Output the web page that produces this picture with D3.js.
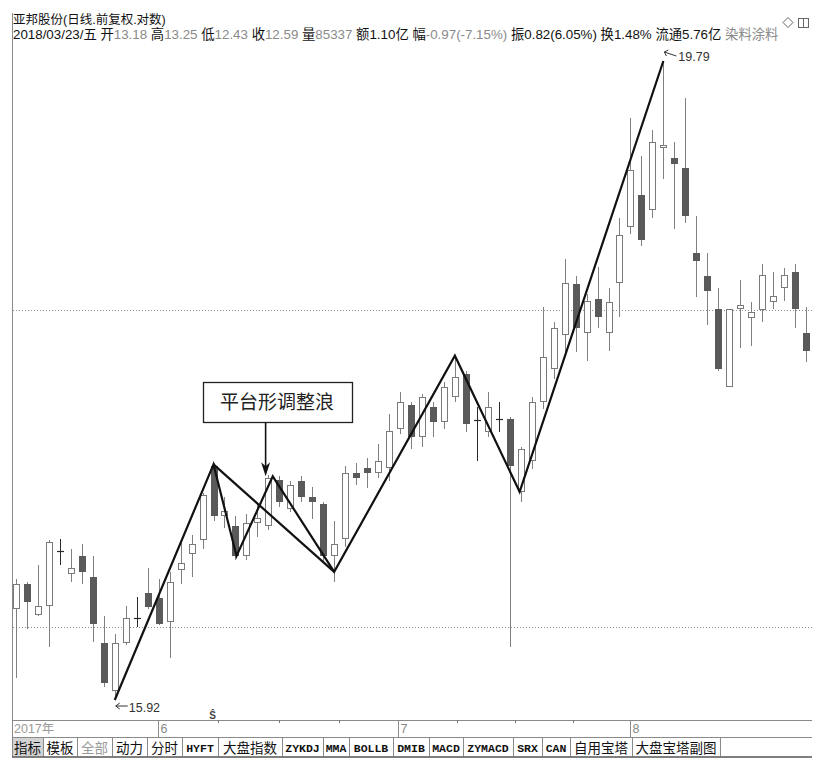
<!DOCTYPE html>
<html><head><meta charset="utf-8">
<script src="https://cdn.jsdelivr.net/npm/d3@7/dist/d3.min.js"></script>
<style>
body{margin:0;background:#fff}
text{white-space:pre}
</style>
</head><body>
<svg id="c" width="828" height="767"></svg>
<script>
// ---------------- DATA ----------------
// daily candles (index 0..72), log price scale
const openP = [16.42,16.56,16.39,16.44,16.75,16.62,16.72,16.60,16.23,15.97,
               16.23,16.37,16.51,16.48,16.35,16.64,16.73,16.81,17.24,16.95,
               16.89,16.72,16.91,16.89,17.16,16.99,17.15,17.06,17.02,16.72,
               16.82,17.20,17.23,17.20,17.23,17.46,17.60,17.41,17.59,17.50,
               17.65,17.79,17.51,17.44,17.52,17.52,17.09,17.27,17.62,17.82,
               18.03,18.34,18.04,18.25,18.04,18.35,18.70,18.91,18.81,19.21,
               19.15,19.08,18.54,18.39,18.19,17.71,18.19,18.13,18.18,18.23,
               18.32,18.42,18.04];
const highP = [16.59,16.57,16.67,16.81,16.82,16.76,16.79,16.72,16.38,16.28,
               16.44,16.49,16.65,16.59,16.63,16.80,16.84,17.08,17.26,17.06,
               16.95,16.96,17.02,17.19,17.18,17.15,17.18,17.12,17.03,16.92,
               17.24,17.26,17.29,17.37,17.55,17.68,17.62,17.67,17.62,17.74,
               17.90,17.81,17.59,17.68,17.62,17.53,17.35,17.65,18.20,18.11,
               18.50,18.39,18.28,18.45,18.32,18.76,19.41,19.16,19.33,19.79,
               19.25,19.54,18.77,18.54,18.32,18.19,18.37,18.23,18.47,18.42,
               18.44,18.47,18.20];
const lowP  = [16.04,16.31,16.38,16.21,16.67,16.57,16.56,16.24,15.99,15.92,
               16.22,16.32,16.42,16.33,16.15,16.56,16.60,16.76,16.92,16.88,
               16.70,16.70,16.83,16.87,17.00,16.97,17.03,16.93,16.69,16.57,
               16.77,17.13,17.11,17.17,17.15,17.43,17.34,17.35,17.41,17.46,
               17.62,17.44,17.27,17.41,17.44,16.21,17.03,17.22,17.58,17.76,
               17.90,17.92,17.87,18.07,17.93,18.14,18.66,18.58,18.76,19.01,
               18.69,18.73,18.26,18.09,17.81,17.71,17.95,17.96,18.11,18.19,
               18.24,18.07,17.86];
const closeP= [16.56,16.46,16.44,16.80,16.75,16.65,16.63,16.34,16.01,16.23,
               16.37,16.37,16.43,16.34,16.57,16.68,16.79,17.07,16.95,16.98,
               16.72,16.91,16.94,17.17,17.03,17.13,17.06,17.03,16.72,16.79,
               17.20,17.17,17.20,17.27,17.45,17.62,17.41,17.65,17.50,17.71,
               17.77,17.49,17.51,17.59,17.52,17.24,17.34,17.62,17.89,18.07,
               18.35,18.07,18.24,18.14,18.23,18.65,19.07,18.62,19.25,19.23,
               19.11,18.77,18.49,18.30,17.82,18.19,18.21,18.17,18.40,18.27,
               18.40,18.19,17.93];

// wave line (candle index, price)
const waveMain  = [[9,15.92],[18,17.25],[20.1,16.72],[23.4,17.18],[29,16.63],[40,17.90],[45.9,17.09],[59,19.79]];
const waveExtra = [[18,17.25],[29,16.63]];
const lowMark  = {i:9,  p:15.92, label:"15.92"};
const highMark = {i:59, p:19.79, label:"19.79"};
const gridValues = [16.32, 18.18];
const annot = {i:22.75, p:17.18, label:"平台形调整浪"};

// time axis
const months = [{i:12.95,label:"6"},{i:34.8,label:"7"},{i:55.95,label:"8"}];
const weekTicks = [18.4, 24.0, 29.45, 40.15, 45.5, 50.75];
const yearLabel = "2017年";

// header
const title = "亚邦股份(日线.前复权.对数)";
const infoParts = [
  ["2018/03/23/五 ","k"],["开","k"],["13.18 ","g"],["高","k"],["13.25 ","g"],
  ["低","k"],["12.43 ","g"],["收","k"],["12.59 ","g"],["量","k"],["85337 ","g"],
  ["额1.10亿 ","k"],["幅","k"],["-0.97(-7.15%) ","g"],["振0.82(6.05%) ","k"],
  ["换1.48% ","k"],["流通5.76亿 ","k"],["染料涂料","g"]];

// bottom tab bar
const tabs = ["指标","模板","全部","动力","分时","HYFT","大盘指数","ZYKDJ","MMA","BOLLB","DMIB","MACD","ZYMACD","SRX","CAN","自用宝塔","大盘宝塔副图"];
const tabWidths = [31,34,35,35,35,36,64,41,26,44,36,34,50,29,28,62,88];

// ---------------- DRAW ----------------
const svg = d3.select("#c");
const W = 828, H = 767;
svg.append("rect").attr("width",W).attr("height",H).attr("fill","#fff");

const L = 12, R = 812;
const x = d3.scaleLinear().domain([0, 72]).range([16, 806]);
const y = d3.scaleLog().domain([15.92, 19.79]).range([700, 61]);

const FONT = "'Liberation Sans', Arial, 'Noto Sans CJK SC', sans-serif";
const CJK = "'Noto Sans CJK SC', 'Liberation Sans', sans-serif";

// frame
svg.append("line").attr("x1",L+0.5).attr("x2",L+0.5).attr("y1",13).attr("y2",757)
  .attr("stroke","#8a8a8a");

// grid
svg.append("g").selectAll("line").data(gridValues).join("line")
  .attr("x1",L+1).attr("x2",R)
  .attr("y1",d=>Math.round(y(d))+0.5).attr("y2",d=>Math.round(y(d))+0.5)
  .attr("stroke","#8c8c8c").attr("stroke-dasharray","1,2");

// candles
const data = openP.map((o,i)=>({i,o,h:highP[i],l:lowP[i],c:closeP[i]}));
const gC = svg.append("g");
const cx = d => Math.round(x(d.i)) + 0.5;
gC.selectAll("line.w").data(data).join("line").attr("class","w")
  .attr("x1",cx).attr("x2",cx)
  .attr("y1",d=>Math.round(y(d.h))).attr("y2",d=>Math.round(y(d.l)))
  .attr("stroke",d=>d.o===d.c?"#2a2a2a":"#808080").attr("stroke-width",1);

const upC = data.filter(d=>d.c>d.o), dnC = data.filter(d=>d.c<d.o), dj = data.filter(d=>d.c===d.o);
gC.selectAll("rect.dn").data(dnC).join("rect").attr("class","dn")
  .attr("x",d=>cx(d)-3.5).attr("width",7)
  .attr("y",d=>Math.round(y(d.o)))
  .attr("height",d=>Math.max(1,Math.round(y(d.c))-Math.round(y(d.o))))
  .attr("fill","#5a5a5a");
gC.selectAll("rect.up").data(upC).join("rect").attr("class","up")
  .attr("x",d=>cx(d)-3).attr("width",6)
  .attr("y",d=>Math.round(y(d.c))+0.5)
  .attr("height",d=>Math.max(1,Math.round(y(d.o))-Math.round(y(d.c))-1))
  .attr("fill","#fff").attr("stroke","#7a7a7a").attr("stroke-width",1);
gC.selectAll("line.dj").data(dj).join("line").attr("class","dj")
  .attr("x1",d=>cx(d)-3.5).attr("x2",d=>cx(d)+3.5)
  .attr("y1",d=>Math.round(y(d.o))+0.5).attr("y2",d=>Math.round(y(d.o))+0.5)
  .attr("stroke","#2a2a2a").attr("stroke-width",1.2);

// wave lines
const line = d3.line().x(d=>x(d[0])).y(d=>y(d[1]));
[waveMain, waveExtra].forEach(w=>{
  svg.append("path").attr("d",line(w)).attr("fill","none")
    .attr("stroke","#111").attr("stroke-width",2.2).attr("stroke-linejoin","miter");
});

// extreme labels
{
  const x0 = x(lowMark.i), y0 = y(lowMark.p);
  const ay = y0 + 6;
  svg.append("path").attr("d",`M${x0+13},${ay}H${x0+1}M${x0+5},${ay-3}L${x0+1},${ay}L${x0+5},${ay+3}`)
    .attr("stroke","#333").attr("fill","none").attr("stroke-width",1);
  svg.append("text").attr("x",x0+14).attr("y",y0+12).text(lowMark.label)
    .attr("font-family",FONT).attr("font-size",12.5).attr("fill","#333");
}
{
  const x0 = x(highMark.i), y0 = y(highMark.p);
  svg.append("path").attr("d",`M${x0+13},${y0-5}L${x0+1},${y0-9}M${x0+1},${y0-9}L${x0+5},${y0-11}M${x0+1},${y0-9}L${x0+3},${y0-5}`)
    .attr("stroke","#333").attr("fill","none").attr("stroke-width",1);
  svg.append("text").attr("x",x0+15).attr("y",y0).text(highMark.label)
    .attr("font-family",FONT).attr("font-size",12.5).attr("fill","#333");
}

// annotation box + arrow
{
  const tx = x(annot.i), ty = y(annot.p);
  const boxW = 149, boxH = 40, boxX = tx - 63, boxY = ty - 94;
  svg.append("rect").attr("x",Math.round(boxX)+0.5).attr("y",Math.round(boxY)+0.5)
    .attr("width",boxW).attr("height",boxH).attr("fill","#fff")
    .attr("stroke","#222").attr("stroke-width",1.3);
  svg.append("text").attr("x",boxX+boxW/2).attr("y",boxY+27)
    .attr("text-anchor","middle").attr("font-family",CJK).attr("font-size",19)
    .attr("fill","#222").text(annot.label);
  svg.append("line").attr("x1",tx).attr("x2",tx).attr("y1",boxY+boxH).attr("y2",ty-9)
    .attr("stroke","#111").attr("stroke-width",1.6);
  svg.append("path").attr("d",`M${tx},${ty}L${tx-4.5},${ty-14}L${tx},${ty-10}L${tx+4.5},${ty-14}Z`)
    .attr("fill","#111");
}

// S marker
svg.append("text").attr("x",212.5).attr("y",719).attr("text-anchor","middle")
  .attr("font-family",FONT).attr("font-size",10).attr("font-weight","bold")
  .attr("fill","#444").text("Ŝ");

// time axis strip
const axTop = 720, axBot = 737;
svg.append("line").attr("x1",L).attr("x2",R).attr("y1",axTop+0.5).attr("y2",axTop+0.5).attr("stroke","#8a8a8a");
svg.append("line").attr("x1",L).attr("x2",R).attr("y1",axBot+0.5).attr("y2",axBot+0.5).attr("stroke","#8a8a8a");
svg.append("text").attr("x",14).attr("y",733).text(yearLabel)
  .attr("font-family",FONT).attr("font-size",12.5).attr("fill","#999");
const gM = svg.append("g");
months.forEach(m=>{
  const mx = Math.round(x(m.i))+0.5;
  gM.append("line").attr("x1",mx).attr("x2",mx).attr("y1",axTop).attr("y2",axBot).attr("stroke","#8a8a8a");
  gM.append("text").attr("x",mx+2).attr("y",733).text(m.label)
    .attr("font-family",FONT).attr("font-size",12.5).attr("fill","#888");
});
gM.selectAll("line.wk").data(weekTicks).join("line").attr("class","wk")
  .attr("x1",d=>Math.round(x(d))+0.5).attr("x2",d=>Math.round(x(d))+0.5)
  .attr("y1",axTop).attr("y2",axTop+3).attr("stroke","#777");

// tab bar
const tabTop = 737.5, tabBot = 756.5;
let tx0 = L;
const gT = svg.append("g");
tabs.forEach((t,k)=>{
  const w = tabWidths[k];
  if (k===0) gT.append("rect").attr("x",tx0+1).attr("y",tabTop+0.5).attr("width",w-1).attr("height",tabBot-tabTop-0.5).attr("fill","#d3d3d3");
  gT.append("line").attr("x1",tx0+w+0.5).attr("x2",tx0+w+0.5).attr("y1",tabTop).attr("y2",tabBot).attr("stroke","#8a8a8a");
  const latin = /^[A-Z]+$/.test(t);
  gT.append("text").attr("x",tx0+w/2).attr("y",latin?752:753).attr("text-anchor","middle")
    .attr("font-family",latin?"'Liberation Mono','DejaVu Sans Mono',monospace":CJK)
    .attr("font-weight",latin?"bold":"normal")
    .attr("font-size",latin?11.5:13.5)
    .attr("fill",t==="全部"?"#9a9a9a":"#111").text(t);
  tx0 += w;
});
svg.append("line").attr("x1",L).attr("x2",R).attr("y1",tabBot+0.5).attr("y2",tabBot+0.5).attr("stroke","#555").attr("stroke-width",1.5);

// header
const t1 = svg.append("text").attr("x",13).attr("y",23.5).attr("font-family",FONT)
  .attr("font-size",12.5).attr("fill","#111").text(title);
{
  const w = t1.node().getComputedTextLength();
  t1.attr("font-size", Math.min(12.5, 12.5*160/w));
}
svg.append("clipPath").attr("id","hc").append("rect").attr("x",0).attr("y",0).attr("width",779).attr("height",45);
const t2 = svg.append("text").attr("x",13).attr("y",39).attr("font-family",FONT)
  .attr("font-size",12.5).attr("clip-path","url(#hc)");
t2.selectAll("tspan").data(infoParts).join("tspan")
  .attr("fill",d=>d[1]==="g"?"#8a8a8a":"#111").text(d=>d[0]);
{
  const w = t2.node().getComputedTextLength();
  t2.attr("font-size", 12.5*766/w);
}
// top-right icons
svg.append("path").attr("d","M788,17.5L793,22.5L788,27.5L783,22.5Z").attr("fill","none").attr("stroke","#666");
svg.append("rect").attr("x",798.5).attr("y",18.5).attr("width",10).attr("height",9).attr("fill","none").attr("stroke","#666");
svg.append("line").attr("x1",803.5).attr("x2",803.5).attr("y1",18.5).attr("y2",27.5).attr("stroke","#666");
</script>
</body></html>
